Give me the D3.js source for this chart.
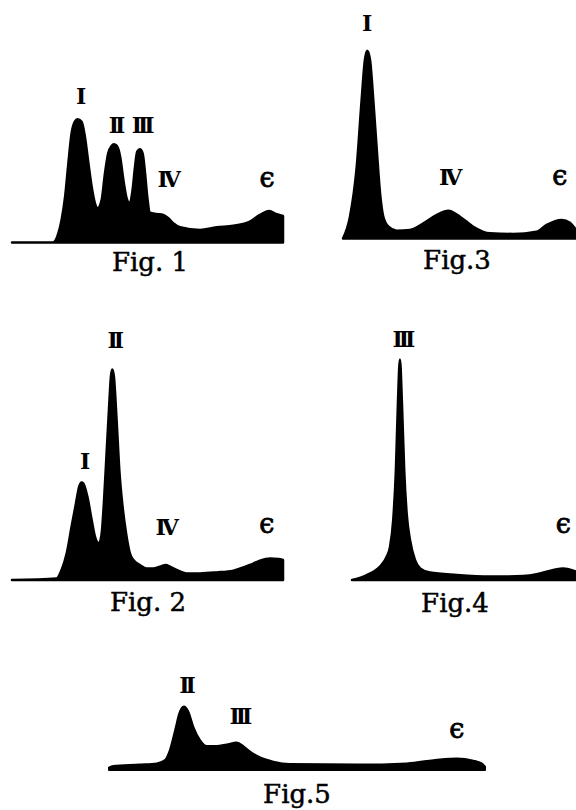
<!DOCTYPE html>
<html>
<head>
<meta charset="utf-8">
<script src="https://cdn.jsdelivr.net/npm/d3@7"></script>
<style>
html,body{margin:0;padding:0;background:#fff;}
svg{display:block;}
.num{font-family:"DejaVu Serif";font-weight:bold;font-size:22px;letter-spacing:-4px;fill:#000;}
.eps{font-family:"DejaVu Serif";font-size:27px;fill:#000;stroke:#000;stroke-width:0.8px;}
.title{font-family:"DejaVu Serif";font-size:26px;fill:#000;stroke:#000;stroke-width:0.5px;}
</style>
</head>
<body>
<script>
// Densitometer profiles: [position along strip (0-100), optical density]
const fig1Profile = [[0,0],[15.1,0],[17.1,4.6],[18.3,11.3],[19.6,22.9],[20.8,39.6],[22.0,54.6],[23.2,60.4],[24.2,61.6],[25.7,60.4],[26.9,52.9],[28.2,39.6],[29.4,27.9],[30.6,19.6],[31.6,17.1],[33.1,21.3],[34.3,34.6],[35.5,44.6],[36.8,48.4],[37.6,49.1],[38.6,48.4],[39.9,42.9],[41.1,31.3],[42.3,22.1],[43.3,19.9],[44.5,26.3],[45.4,37.9],[46.2,45.4],[47.2,46.6],[48.2,44.6],[49.1,34.6],[49.9,22.9],[50.9,14.9],[53.4,14.3],[55.8,13.8],[57.7,12.1],[59.5,9.6],[62.0,7.6],[69.4,6.3],[75.5,7.6],[81.7,8.4],[87.8,10.4],[91.5,13.8],[94.9,15.8],[97.7,14.1],[100,13.3]];
const fig2Profile = [[0,0],[16.5,0.8],[18.3,5],[20.2,13.3],[22.0,26.7],[23.6,38.3],[24.8,46.7],[25.7,48.7],[26.3,48.3],[27.8,41.7],[29.4,30],[30.6,21.7],[32.1,18.3],[33.1,23.3],[33.9,38.3],[34.9,63.3],[35.9,88.3],[36.5,101.7],[37.0,105.3],[37.6,101.7],[38.6,80],[39.6,55],[40.8,36.7],[42.1,23.3],[43.5,13.3],[44.8,10],[47.2,7.5],[49.7,5.8],[52.1,5.8],[54.6,6.7],[56.8,7.5],[58.3,6.7],[60.8,5],[64.5,3.3],[69.4,3.3],[75.5,3.8],[81.7,4.7],[87.8,7.5],[91.5,9.7],[95.2,10.8],[98.3,10.5],[100,10]];
const fig3Profile = [[0,0],[3.0,10.9],[5.9,35.9],[8.0,69.3],[9.4,89.3],[10.4,93.9],[11.6,89.3],[13.0,69.3],[14.5,44.3],[15.9,22.6],[17.3,10.9],[19.5,5.9],[23.0,3.9],[28.8,4.3],[34.5,7.6],[40.3,11.8],[45.2,13.9],[50.2,10.9],[55.9,5.9],[63.1,2.6],[73.1,2.3],[83.1,3.4],[87.4,6.8],[93.9,9.3],[97.4,7.9],[100,4.3]];
const fig4Profile = [[0,0],[6.6,2.5],[12.5,6.7],[15.5,11.7],[17.0,16.7],[18.4,30],[19.6,55],[20.5,88.3],[21.4,110.3],[22.3,88.3],[23.3,55],[24.4,33.3],[25.9,20],[28.1,10],[30.4,5.8],[34.8,3.7],[46.7,2.5],[61.6,1.7],[76.5,2],[83.9,3.3],[89.9,5],[94.3,5.8],[98.8,4.7],[100,4.2]];
const fig5Profile = [[0,1.2],[1.1,2],[8.2,2.7],[12.7,3.3],[14.9,5],[16.2,10],[17.6,20],[18.7,28.3],[19.9,31.7],[21.1,29.2],[22.4,21.7],[24.2,15],[26.0,12],[28.6,12],[31.3,12.8],[34.0,13.7],[35.7,12],[37.5,9.2],[40.2,6.3],[43.7,4.2],[48.1,3],[65.9,2.7],[79.2,3.3],[88.0,5.3],[92.5,5.7],[96.9,4.7],[99.1,3.3],[100,1.7]];

// Fraction labels: [name, position, density]
const fig1Labels = [["I",24.0,69.3],["II",37.3,54.8],["III",46.9,54.8],["IV",56.5,27.9],["ϵ",94.1,27.8]];
const fig2Labels = [["II",36.8,115.9],["I",25.5,55.5],["IV",55.8,22.5],["ϵ",94.0,23.4]];
const fig3Labels = [["I",8.7,103.8],["IV",44.5,26.8],["ϵ",93.1,26.8]];
const fig4Labels = [["III",21.4,116.7],["ϵ",94.3,23.4]];
const fig5Labels = [["II",19.8,38.7],["III",34.0,23],["ϵ",92.5,15.9]];

const figTitles = ["Fig. 1","Fig. 2","Fig.3","Fig.4","Fig.5"];

// Layout (pixels)
const panels = [
  {profile:fig1Profile, labels:fig1Labels, title:figTitles[0], x0:12,  x1:283, base:242.5, tx:150, ty:271, sw:2.5},
  {profile:fig2Profile, labels:fig2Labels, title:figTitles[1], x0:12,  x1:283, base:580,   tx:148, ty:611, sw:2.5},
  {profile:fig3Profile, labels:fig3Labels, title:figTitles[2], x0:343, x1:576, base:238.5, tx:457, ty:269, sw:2.5},
  {profile:fig4Profile, labels:fig4Labels, title:figTitles[3], x0:352, x1:576, base:580,   tx:455, ty:612, sw:2.5},
  {profile:fig5Profile, labels:fig5Labels, title:figTitles[4], x0:109, x1:485, base:770,   tx:297, ty:803, sw:2}
];

const svg = d3.select("body").append("svg").attr("width",576).attr("height",810);

panels.forEach(p => {
  const x = d3.scaleLinear().domain([0,100]).range([p.x0,p.x1]);
  const y = d3.scaleLinear().domain([0,100]).range([p.base,p.base-200]);
  const g = svg.append("g");
  const area = d3.area()
    .x(d => x(d[0]))
    .y0(y(0))
    .y1(d => y(d[1]))
    .curve(d3.curveMonotoneX);
  g.append("path")
    .datum(p.profile)
    .attr("d", area)
    .attr("fill","#000")
    .attr("stroke","#000")
    .attr("stroke-width",p.sw)
    .attr("stroke-linejoin","round")
    .attr("stroke-linecap","round");
  g.selectAll("text.lab")
    .data(p.labels)
    .join("text")
    .attr("class", d => d[0]==="ϵ" ? "eps" : "num")
    .attr("x", d => x(d[1]) + (d[0]==="ϵ" ? 0 : 2))
    .attr("y", d => y(d[2]))
    .attr("text-anchor","middle")
    .text(d => d[0]);
  g.append("text")
    .attr("class","title")
    .attr("x",p.tx)
    .attr("y",p.ty)
    .attr("text-anchor","middle")
    .text(p.title);
});
</script>
</body>
</html>
